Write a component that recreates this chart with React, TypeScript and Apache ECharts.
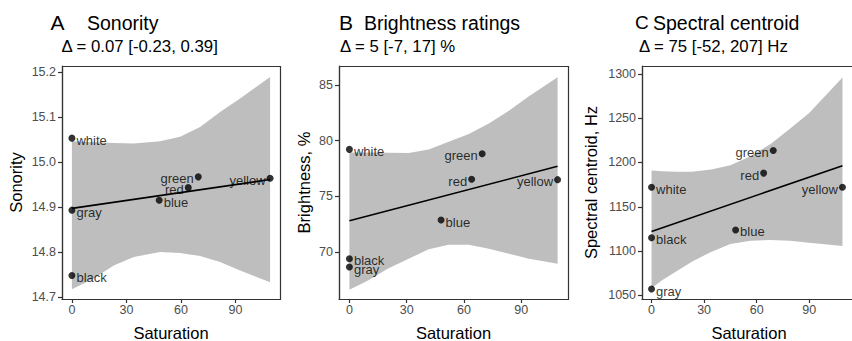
import React, { useEffect, useRef } from "react";
import * as echarts from "echarts";

// ---- data ----
const colorNames = ["white", "gray", "black", "blue", "red", "green", "yellow"];
const leftLabelled = ["red", "green", "yellow"];
const saturation = [0, 0, 0, 48, 64, 69.5, 109];
const sonority = [15.053, 14.893, 14.748, 14.915, 14.943, 14.967, 14.964];
const brightness = [79.22, 68.65, 69.4, 72.87, 76.53, 78.83, 76.5];
const centroid = [1172, 1057, 1115, 1123.8, 1188, 1213.5, 1172];

const fitX = [0, 109];
const fitSonority = [14.897, 14.961];
const fitBrightness = [72.81, 77.7];
const fitCentroid = [1122, 1196.4];

const ribbonXA = [0, 12, 23, 34, 48.5, 59.5, 70.5, 81.5, 92.5, 109];
const ribbonLoA = [14.717, 14.741, 14.77, 14.789, 14.8, 14.798, 14.791, 14.778, 14.759, 14.733];
const ribbonHiA = [15.046, 15.044, 15.042, 15.041, 15.046, 15.056, 15.078, 15.111, 15.141, 15.189];

const ribbonXB = [0, 10, 20, 31, 41.5, 52, 62.5, 73, 83.5, 94, 109];
const ribbonLoB = [66.62, 67.46, 68.5, 69.4, 70.24, 70.66, 70.66, 70.3, 69.85, 69.4, 68.95];
const ribbonHiB = [78.95, 78.93, 78.92, 78.9, 79.2, 79.9, 80.6, 81.55, 82.7, 84.0, 85.7];

const ribbonXC = [0, 6, 14, 23, 34, 45, 56.5, 68, 79, 90, 109];
const ribbonLoC = [1058, 1067, 1077, 1088, 1099, 1108, 1111.7, 1112.5, 1111.7, 1109.4, 1105.7];
const ribbonHiC = [1191, 1190, 1189.5, 1189.5, 1192, 1197, 1207, 1221, 1238, 1256, 1296];

const xTicks = [0, 30, 60, 90];
const yTicksA = [14.7, 14.8, 14.9, 15.0, 15.1, 15.2];
const yTicksB = [70, 75, 80, 85];
const yTicksC = [1050, 1100, 1150, 1200, 1250, 1300];

const panelLetters = ["A", "B", "C"];
const panelTitles = ["Sonority", "Brightness ratings", "Spectral centroid"];
const panelSubtitles = ["Δ = 0.07 [-0.23, 0.39]", "Δ = 5 [-7, 17] %", "Δ = 75 [-52, 207] Hz"];
const yTitles = ["Sonority", "Brightness, %", "Spectral centroid, Hz"];
const xTitle = "Saturation";

const FONT = "Liberation Sans, Arial, Helvetica, sans-serif";

export default function App() {
  const ref = useRef<HTMLDivElement>(null);
  useEffect(() => {
    if (!ref.current) return;
    const chart = echarts.init(ref.current, null, { renderer: "svg" });

    const grids = [
      { left: 62, top: 66, width: 218, height: 233 },
      { left: 339, top: 66, width: 229, height: 233 },
      { left: 642, top: 66, width: 214, height: 233 },
    ];
    const xRange = [-5.45, 114.45];
    const yRanges = [
      [14.6956, 15.2133],
      [65.78, 86.71],
      [1045.8, 1309],
    ];
    const yTicks = [yTicksA, yTicksB, yTicksC];
    const yDecimals = [1, 0, 0];
    const values = [sonority, brightness, centroid];
    const fits = [fitSonority, fitBrightness, fitCentroid];
    const ribbons = [
      [ribbonXA, ribbonLoA, ribbonHiA],
      [ribbonXB, ribbonLoB, ribbonHiB],
      [ribbonXC, ribbonLoC, ribbonHiC],
    ];

    const mkFrame = () => ({ show: true, onZero: false, lineStyle: { color: "#333", width: 1.2 } });

    const xAxes: any[] = [];
    const yAxes: any[] = [];
    grids.forEach((_, i) => {
      xAxes.push({
        type: "value",
        gridIndex: i,
        position: "bottom",
        min: xRange[0],
        max: xRange[1],
        splitLine: { show: false },
        axisLine: mkFrame(),
        axisTick: { show: true, length: 4, customValues: xTicks, lineStyle: { color: "#333", width: 1.2 } },
        axisLabel: { customValues: xTicks, color: "#4D4D4D", fontSize: 12.5, margin: 4, fontFamily: FONT },
      });
      yAxes.push({
        type: "value",
        gridIndex: i,
        position: "left",
        min: yRanges[i][0],
        max: yRanges[i][1],
        splitLine: { show: false },
        axisLine: mkFrame(),
        axisTick: { show: true, length: 4, customValues: yTicks[i], lineStyle: { color: "#333", width: 1.2 } },
        axisLabel: {
          customValues: yTicks[i],
          color: "#4D4D4D",
          fontSize: 12.5,
          margin: 6,
          fontFamily: FONT,
          formatter: (v: number) => v.toFixed(yDecimals[i]),
        },
      });
    });

    const series: any[] = [];
    grids.forEach((_, i) => {
      series.push({
        type: "line",
        xAxisIndex: i,
        yAxisIndex: i,
        z: 2,
        clip: false,
        silent: true,
        symbol: "none",
        data: fitX.map((x, k) => [x, fits[i][k]]),
        lineStyle: { color: "#000", width: 1.6 },
      });
      series.push({
        type: "scatter",
        xAxisIndex: i,
        yAxisIndex: i,
        z: 3,
        clip: false,
        silent: true,
        symbolSize: 7,
        itemStyle: { color: "#000" },
        label: {
          show: true,
          formatter: "{b}",
          position: "right",
          distance: 1,
          offset: [0, 2],
          fontSize: 13,
          color: "#000",
          fontFamily: FONT,
        },
        data: colorNames.map((n, k) => ({
          name: n,
          value: [saturation[k], values[i][k]],
          label: leftLabelled.includes(n) ? { position: "left" } : undefined,
        })),
      });
    });

    chart.setOption({
      animation: false,
      grid: grids.map((g) => ({ ...g, show: false })),
      xAxis: xAxes,
      yAxis: yAxes,
      series,
    });

    // ribbons: converted to pixels through the chart's own axes
    const graphic: any[] = [];
    ribbons.forEach(([rx, rlo, rhi], i) => {
      const finder = { xAxisIndex: i, yAxisIndex: i };
      const pts: number[][] = [];
      rx.forEach((x, k) => pts.push(chart.convertToPixel(finder as any, [x, rhi[k]]) as any));
      for (let k = rx.length - 1; k >= 0; k--) pts.push(chart.convertToPixel(finder as any, [rx[k], rlo[k]]) as any);
      graphic.push({
        type: "polygon",
        z: 1,
        silent: true,
        shape: { points: pts },
        style: { fill: "#BEBEBE" },
      });
    });

    const letterX = [50.5, 339, 635];
    const letterSize = [21, 21, 19];
    const titleX = [87, 364, 653];
    const subX = [61.5, 340, 639];
    const yTitleX = [16, 304, 591];
    grids.forEach((g, i) => {
      graphic.push({
        type: "rect",
        z: 10,
        silent: true,
        shape: { x: g.left + 0.5, y: g.top + 0.5, width: g.width, height: g.height },
        style: { fill: "none", stroke: "#333", lineWidth: 1.2 },
      });
      graphic.push({
        type: "text",
        x: letterX[i],
        y: 22.5,
        style: { text: panelLetters[i], fontSize: letterSize[i], fontFamily: FONT, fill: "#000", align: "left", verticalAlign: "middle" },
      });
      graphic.push({
        type: "text",
        x: titleX[i],
        y: 22.5,
        style: { text: panelTitles[i], fontSize: 19.5, fontFamily: FONT, fill: "#000", align: "left", verticalAlign: "middle" },
      });
      graphic.push({
        type: "text",
        x: subX[i],
        y: 46.3,
        style: { text: panelSubtitles[i], fontSize: 16.8, fontFamily: FONT, fill: "#000", align: "left", verticalAlign: "middle" },
      });
      graphic.push({
        type: "text",
        x: g.left + g.width / 2,
        y: 333,
        style: { text: xTitle, fontSize: 16.5, fontFamily: FONT, fill: "#000", align: "center", verticalAlign: "middle" },
      });
      graphic.push({
        type: "text",
        x: yTitleX[i],
        y: g.top + g.height / 2,
        rotation: Math.PI / 2,
        style: { text: yTitles[i], fontSize: 16.5, fontFamily: FONT, fill: "#000", align: "center", verticalAlign: "middle" },
      });
    });

    chart.setOption({ graphic });
    return () => chart.dispose();
  }, []);
  return (
    <div
      ref={ref}
      style={{ position: "fixed", left: 0, top: 0, width: 852, height: 341, background: "#fff" }}
    />
  );
}
